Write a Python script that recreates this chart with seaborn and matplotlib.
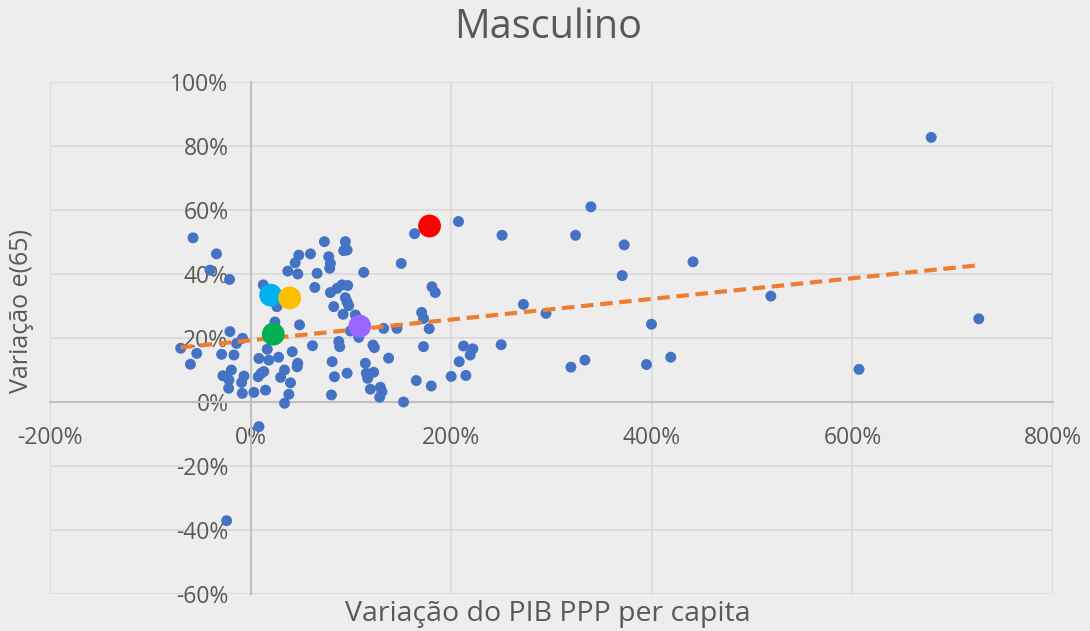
import numpy as np
import pandas as pd
import seaborn as sns
import matplotlib.pyplot as plt
from matplotlib.ticker import PercentFormatter, MultipleLocator

# variação do PIB PPP per capita (%) e variação e(65) (%)
pib_var = [-57.4, -34, -40.5, -21, 12.6, 26.2, 24.2, -20.6, -8, -14,
           -69.7, -53.7, -28.9, -16.6, -60, -19.2, -27.6, -21.6, -21.9, -6.6,
           -9, -8.3, 3.3, 14.9, 16.6, 8.3, 18.2, 27.9, 10.6, 13.2,
           7.6, 29.9, 33.8, 39.8, 38.1, 33.8, 41.5, 46.4, 47, 48.8,
           61.7, 37.1, 47.1, 44.4, 48.1, 59.7, 73.6, 66.3, 64, 79.6,
           86.2, 82.9, 77.9, 79.6, 78.9, 81.3, 83.6, 80.6, 87.9, 88.9,
           94.5, 92.8, 96.2, 112.8, 150.2, 163.5, 91.2, 96.8, 94.5, 96.2,
           97.8, 92.2, 104.5, 99.5, 107.8, 132.7, 145.9, 170.5, 172.4, 122,
           123.4, 137.6, 114.4, 96.2, 115.4, 116.7, 122.7, 119.4, 129.4, 131,
           128.7, 152.5, 165.2, 207.3, 180.8, 184.1, 178.1, 172.4, 212.3, 221.6,
           218.9, 208, 200, 214.6, 180.1, 339.3, 250.7, 324, 272, 294.5,
           249.8, 319.4, 333.3, 678.6, 372.5, 370.5, 441.1, 518.7, 399.7, 726,
           394.7, 418.9, 606.6, 8.3, -23.9]
e65_var = [51.3, 46.3, 41.2, 38.3, 36.6, 29.8, 25, 22, 19.9, 18.3,
           16.8, 15.2, 14.9, 14.7, 11.8, 10, 8.2, 6.9, 4.3, 8.1,
           6.1, 2.7, 3, 3.7, 16.5, 13.6, 13.1, 14, 9, 9.5,
           7.9, 7.7, 10, 6, 2.4, -0.4, 15.7, 11, 12.1, 24.1,
           17.6, 40.9, 40, 43.5, 45.9, 46.3, 50.1, 40.2, 35.8, 34.2,
           35.5, 29.8, 45.4, 43.3, 41.8, 12.6, 7.9, 2.2, 18.9, 17.3,
           50.1, 47.3, 47.5, 40.5, 43.3, 52.6, 36.6, 36.4, 32.6, 31.3,
           30.1, 27.4, 27.2, 22.2, 20.2, 23, 23, 28, 26.1, 17.8,
           17, 13.7, 12.1, 9, 9, 7.4, 9.3, 4, 4.6, 3.2,
           1.5, 0, 6.7, 56.4, 36, 34.2, 22.9, 17.3, 17.5, 16.6,
           14.7, 12.6, 8, 8.3, 5, 61, 52.1, 52.1, 30.5, 27.7,
           17.9, 10.9, 13.1, 82.7, 49.1, 39.5, 43.8, 33.1, 24.3, 26,
           11.7, 14, 10.2, -7.7, -37.1]

# pontos destacados
dest_x = [178.4, 20.0, 39.0, 22.6, 108.8]
dest_y = [55.0, 33.4, 32.5, 21.2, 23.7]
dest_cores = ['#FF0000', '#00B0F0', '#FFC000', '#00B050', '#9966FF']

df = pd.DataFrame({'pib': np.array(pib_var) / 100, 'e65': np.array(e65_var) / 100})
df_dest = pd.DataFrame({'pib': np.array(dest_x) / 100, 'e65': np.array(dest_y) / 100})
df_all = pd.concat([df, df_dest])

sns.set_style('white')
plt.rcParams['font.family'] = ['Open Sans', 'DejaVu Sans']
plt.rcParams['axes.unicode_minus'] = False
cinza = '#595959'
fundo = '#EDEDED'

fig = plt.figure(figsize=(10.9, 6.31), dpi=100, facecolor=fundo)
ax = fig.add_axes([50 / 1090, 37 / 631, 1003 / 1090, 512 / 631])
ax.set_facecolor(fundo)

sns.scatterplot(data=df, x='pib', y='e65', color='#4472C4', s=62, edgecolor='none', ax=ax, zorder=3)
sns.regplot(data=df_all, x='pib', y='e65', scatter=False, ci=None, ax=ax,
            line_kws=dict(color='#ED7D31', lw=3, ls=(0, (3, 1.6)), zorder=4))
for i in range(len(dest_x)):
    ax.scatter(df_dest['pib'].iloc[i], df_dest['e65'].iloc[i], s=270,
               color=dest_cores[i], edgecolor='none', zorder=5)

ax.set_xlim(-2, 8)
ax.set_ylim(-0.6, 1.0)
ax.xaxis.set_major_locator(MultipleLocator(2))
ax.yaxis.set_major_locator(MultipleLocator(0.2))
ax.xaxis.set_major_formatter(PercentFormatter(1.0, decimals=0))
ax.yaxis.set_major_formatter(PercentFormatter(1.0, decimals=0))
ax.grid(True, color='#D9D9D9', lw=1.2, zorder=0)
ax.set_axisbelow(True)

for s in ['top', 'right']:
    ax.spines[s].set_visible(False)
for s in ['left', 'bottom']:
    ax.spines[s].set_position(('data', 0))
    ax.spines[s].set_color('#BFBFBF')
    ax.spines[s].set_linewidth(1.5)
    ax.spines[s].set_zorder(1)
ax.tick_params(axis='both', length=0, labelsize=16.5, labelcolor=cinza)
ax.tick_params(axis='y', pad=16)
ax.tick_params(axis='x', pad=17)
ax.set_xlabel('')
ax.set_ylabel('')

fig.text(548 / 1090, 1 - 28 / 631, 'Masculino', ha='center', va='center', fontsize=28.5, color=cinza)
fig.text(548 / 1090, 1 - 614 / 631, 'Variação do PIB PPP per capita', ha='center', va='center',
         fontsize=20.5, color=cinza)
fig.text(22 / 1090, 1 - 311 / 631, 'Variação e(65)', ha='center', va='center', rotation=90,
         fontsize=18, color=cinza)

fig.savefig('out.png', dpi=100, facecolor=fundo)
